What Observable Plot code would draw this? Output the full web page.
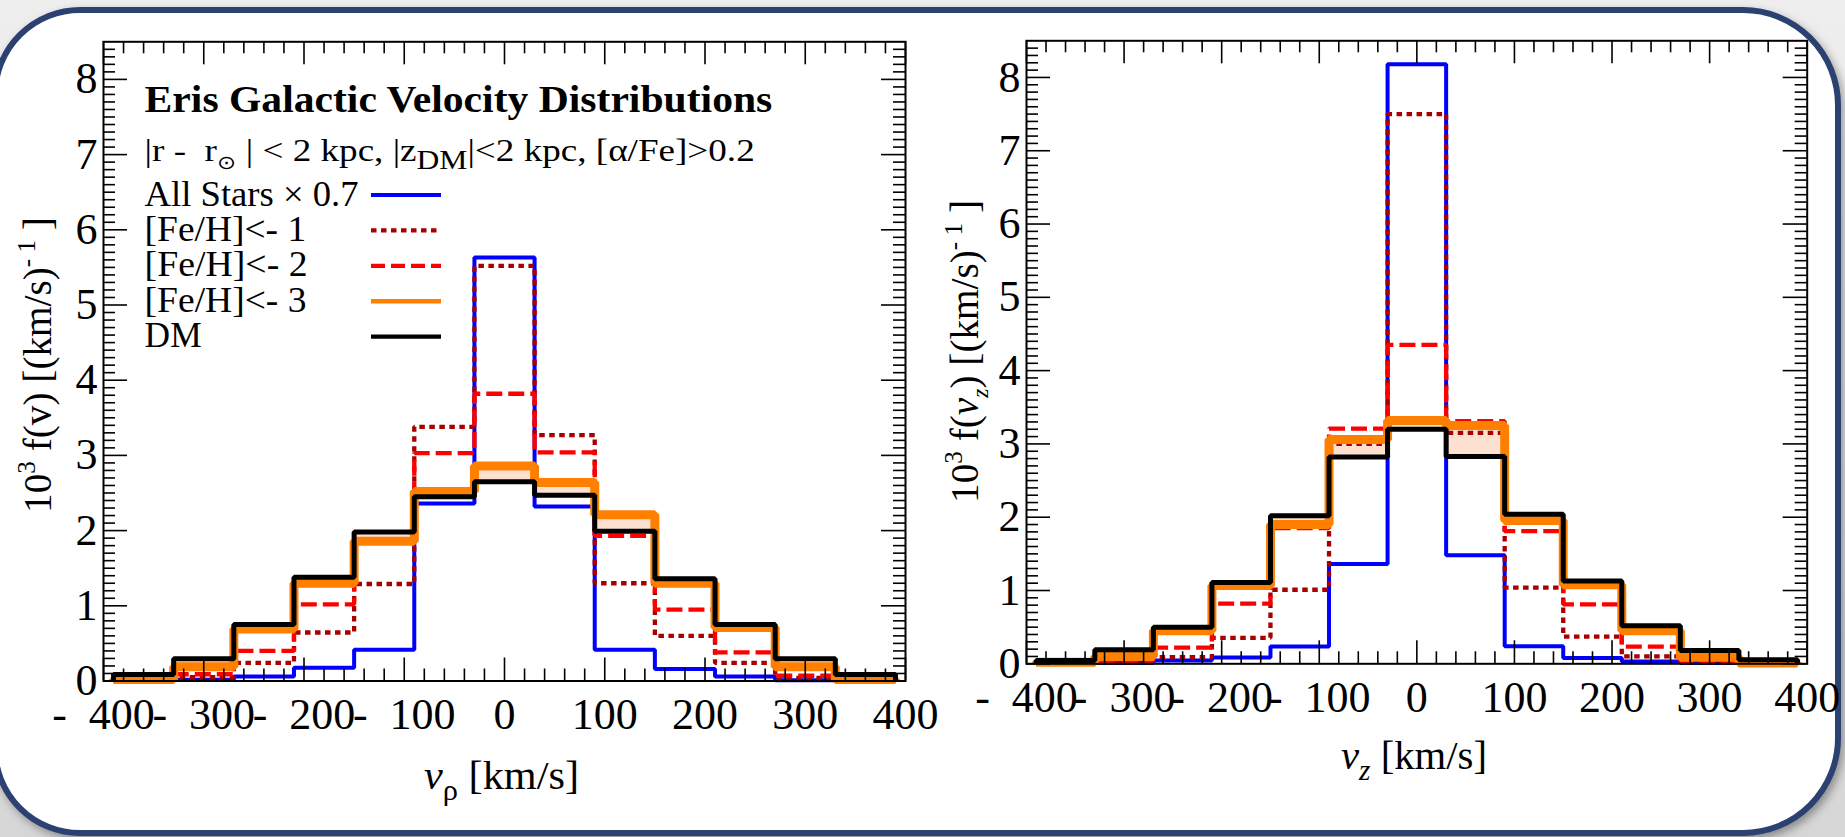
<!DOCTYPE html>
<html>
<head>
<meta charset="utf-8">
<script src="https://cdn.jsdelivr.net/npm/d3@7"></script>
<script src="https://cdn.jsdelivr.net/npm/@observablehq/plot@0.6"></script>
<style>
  html, body { margin: 0; padding: 0; }
  body { width: 1845px; height: 837px; overflow: hidden; }
  #page {
    position: relative; width: 1845px; height: 837px; overflow: hidden;
    background: linear-gradient(180deg, #eeeeee 0%, #e2e2e2 60%, #d6d6d6 100%);
    font-family: "Liberation Serif", "Times New Roman", serif;
  }
  #card {
    position: absolute; box-sizing: border-box;
    left: -8px; top: 7px; width: 1849px; height: 829px;
    background: #ffffff;
    border: 6px solid #2b4171;
    border-radius: 88px 98px 98px 88px;
    box-shadow: 3px 4px 9px rgba(0, 0, 0, 0.35);
  }
  #page svg.panel { position: absolute; top: 0; z-index: 1; }
  #overlay { position: absolute; left: 0; top: 0; z-index: 2; pointer-events: none; }
</style>
</head>
<body>
<div id="page">
  <div id="card"></div>
  <svg id="overlay" width="1845" height="837"></svg>
</div>
<script>
// Velocity bins (km/s): centres, 60 km/s wide
const binCenters = [-360, -300, -240, -180, -120, -60, 0, 60, 120, 180, 240, 300, 360];
const binWidth = 60;

// 10^3 f(v_rho)
const allStarsRho  = [0.01, 0.015, 0.06, 0.175, 0.415, 2.36, 5.63, 2.32, 0.415, 0.16, 0.06, 0.01, 0.005];
const fehBelow1Rho = [0.01, 0.05, 0.24, 0.645, 1.29, 3.38, 5.52, 3.27, 1.30, 0.60, 0.24, 0.04, 0.01];
const fehBelow2Rho = [0.01, 0.09, 0.40, 1.02, 1.85, 3.03, 3.82, 3.04, 1.93, 0.95, 0.38, 0.07, 0.01];
const fehBelow3Rho = [0.02, 0.19, 0.69, 1.30, 1.86, 2.52, 2.86, 2.64, 2.21, 1.30, 0.71, 0.19, 0.02];
const darkMatterRho = [0.086, 0.295, 0.75, 1.38, 1.98, 2.45, 2.65, 2.47, 1.99, 1.36, 0.75, 0.295, 0.086];

// 10^3 f(v_z)
const allStarsZ  = [0.0, 0.01, 0.045, 0.085, 0.235, 1.36, 8.18, 1.48, 0.24, 0.08, 0.03, 0.01, 0.0];
const fehBelow1Z = [0.0, 0.015, 0.09, 0.355, 1.01, 3.00, 7.50, 3.15, 1.04, 0.37, 0.10, 0.02, 0.0];
const fehBelow2Z = [0.0, 0.04, 0.22, 0.82, 1.85, 3.21, 4.35, 3.31, 1.81, 0.81, 0.235, 0.04, 0.0];
const fehBelow3Z = [0.02, 0.10, 0.45, 1.07, 1.90, 3.06, 3.32, 3.25, 1.955, 1.08, 0.45, 0.09, 0.01];
const darkMatterZ = [0.045, 0.19, 0.50, 1.11, 2.02, 2.82, 3.20, 2.83, 2.04, 1.13, 0.52, 0.18, 0.055];

// Axis ticks
const xMajorTicks = [-400, -300, -200, -100, 0, 100, 200, 300, 400];
const xMinorTicks = d3.range(-400, 401, 20).filter(v => v % 100 !== 0);
const yMajorTicks = [0, 1, 2, 3, 4, 5, 6, 7, 8];
const yMinorTicks = d3.range(1, 85).map(i => i / 10).filter(v => Math.abs(v - Math.round(v)) > 1e-6);

// Legend entries
const legendLabels = ["All Stars \u00d7 0.7", "[Fe/H]<- 1", "[Fe/H]<- 2", "[Fe/H]<- 3", "DM"];

// Line styles per series
const styles = {
  all:  {stroke: "#0000ff", strokeWidth: 4},
  feh1: {stroke: "#a80000", strokeWidth: 4.3, strokeDasharray: "5.5,4.5"},
  feh2: {stroke: "#ff0000", strokeWidth: 4.3, strokeDasharray: "16,6"},
  feh3: {stroke: "#ff8000", strokeWidth: 9},
  dm:   {stroke: "#000000", strokeWidth: 5}
};
const bandFill = "#fde0d0";

// Histogram outline: each bin contributes its two edges, closed to zero at both ends
function stepPoints(values) {
  const pts = [{x: binCenters[0] - binWidth / 2, y: 0}];
  values.forEach((v, i) => {
    pts.push({x: binCenters[i] - binWidth / 2, y: v});
    pts.push({x: binCenters[i] + binWidth / 2, y: v});
  });
  pts.push({x: binCenters[binCenters.length - 1] + binWidth / 2, y: 0});
  return pts;
}
// Stepped band between two histograms
function bandPoints(lo, hi) {
  const pts = [];
  lo.forEach((v, i) => {
    pts.push({x: binCenters[i] - binWidth / 2, y1: v, y2: hi[i]});
    pts.push({x: binCenters[i] + binWidth / 2, y1: v, y2: hi[i]});
  });
  return pts;
}

const xTickFormat = d => d < 0 ? "-\u2002" + Math.abs(d) : String(d);
const yTickFormat = d => String(d);

function panel(p) {
  const height = 837;
  const plotH = height - p.mT - p.mB;
  const plotW = p.width - p.mL - p.mR;
  const lineOpts = s => ({x: "x", y: "y", ...styles[s], strokeLinecap: "butt", strokeLinejoin: "miter"});
  const tk = {stroke: "black", strokeWidth: 1.6};
  const svg = Plot.plot({
    width: p.width, height,
    marginLeft: p.mL, marginRight: p.mR, marginTop: p.mT, marginBottom: p.mB,
    x: {domain: [-400, 400]},
    y: {domain: [0, 8.5]},
    style: {fontFamily: "'Liberation Serif', 'Times New Roman', serif", color: "black", background: "transparent", overflow: "visible"},
    marks: [
      Plot.areaY(bandPoints(p.series.dm, p.series.feh3), {x: "x", y1: "y1", y2: "y2", fill: bandFill}),
      Plot.line(stepPoints(p.series.all), lineOpts("all")),
      Plot.line(stepPoints(p.series.feh1), lineOpts("feh1")),
      Plot.line(stepPoints(p.series.feh2), lineOpts("feh2")),
      Plot.line(stepPoints(p.series.feh3), lineOpts("feh3")),
      Plot.line(stepPoints(p.series.dm), lineOpts("dm")),
      // inward ticks on all four sides
      Plot.tickX(xMinorTicks, {x: d => d, insetTop: plotH - 12, ...tk}),
      Plot.tickX(xMinorTicks, {x: d => d, insetBottom: plotH - 12, ...tk}),
      Plot.tickX(xMajorTicks, {x: d => d, insetTop: plotH - 23, ...tk}),
      Plot.tickX(xMajorTicks, {x: d => d, insetBottom: plotH - 23, ...tk}),
      Plot.tickY(yMinorTicks, {y: d => d, insetRight: plotW - 12, ...tk}),
      Plot.tickY(yMinorTicks, {y: d => d, insetLeft: plotW - 12, ...tk}),
      Plot.tickY(yMajorTicks, {y: d => d, insetRight: plotW - 24, ...tk}),
      Plot.tickY(yMajorTicks, {y: d => d, insetLeft: plotW - 24, ...tk}),
      Plot.axisX(xMajorTicks, {tickSize: 0, tickPadding: 17, tickFormat: xTickFormat, fontSize: 44, label: null}),
      Plot.axisY(yMajorTicks, {tickSize: 0, tickPadding: 6, tickFormat: yTickFormat, fontSize: 44, label: null}),
      Plot.frame({stroke: "black", strokeWidth: 2})
    ]
  });
  svg.classList.add("panel");
  svg.style.left = p.left + "px";
  document.getElementById("page").appendChild(svg);
}

panel({left: 0, width: 930, mL: 103, mR: 25, mT: 41.3, mB: 156.5,
  series: {all: allStarsRho, feh1: fehBelow1Rho, feh2: fehBelow2Rho, feh3: fehBelow3Rho, dm: darkMatterRho}});
panel({left: 930, width: 915, mL: 96, mR: 38.3, mT: 40.3, mB: 173.7,
  series: {all: allStarsZ, feh1: fehBelow1Z, feh2: fehBelow2Z, feh3: fehBelow3Z, dm: darkMatterZ}});

// ---- titles, axis labels and legend ----
const ov = d3.select("#overlay");

function richText(parent, parts, size, weight) {
  const text = parent.append("text")
    .attr("font-size", size)
    .attr("font-weight", weight || "normal")
    .attr("fill", "black")
    .style("white-space", "pre");
  let shift = 0;
  for (const part of parts) {
    const target = part.sup ? -0.42 * size : part.sub ? 0.26 * size : 0;
    const ts = text.append("tspan").text(part.t);
    if (target !== shift) { ts.attr("dy", target - shift); shift = target; }
    if (part.sup || part.sub) ts.attr("font-size", size * (part.scale || 0.64));
    if (part.italic) ts.attr("font-style", "italic");
  }
  return text;
}
function fitWidth(text, width) {
  const w = text.node().getComputedTextLength();
  if (w > 0) text.attr("transform", `scale(${width / w},1)`);
}
// (x, y) is the baseline start, or the baseline centre when anchor is middle
function label(x, y, parts, size, width, opts = {}) {
  const g = ov.append("g").attr("transform", `translate(${x},${y})${opts.rotate ? " rotate(-90)" : ""}`);
  const t = richText(g, parts, size, opts.weight).attr("text-anchor", opts.anchor || "start");
  fitWidth(t, width);
  return t;
}

label(144.6, 112, [{t: "Eris Galactic Velocity Distributions"}], 38.5, 628, {weight: "bold"});
label(144.6, 161, [
  {t: "|r -  r"}, {t: "\u2299", sub: true, scale: 0.6}, {t: " | < 2 kpc, |z"},
  {t: "DM", sub: true, scale: 0.85}, {t: "|<2 kpc, [\u03b1/Fe]>0.2"}
], 31, 610);

// legend
const legendKeys = ["all", "feh1", "feh2", "feh3", "dm"];
const legendWidths = [214, 161.6, 163, 162, 57];
legendKeys.forEach((k, i) => {
  const y = 195 + i * 35.4;
  label(144.6, y + 10.5, [{t: legendLabels[i]}], 35.5, legendWidths[i]);
  const s = styles[k];
  ov.append("line")
    .attr("x1", 371).attr("x2", 441).attr("y1", y).attr("y2", y)
    .attr("stroke", s.stroke)
    .attr("stroke-width", k === "feh3" ? 4.5 : 4.2)
    .attr("stroke-dasharray", k === "feh2" ? "14,6" : k === "feh1" ? "5.5,4.5" : null);
});

// axis titles
label(501.5, 789, [{t: "v", italic: true}, {t: "\u03c1", sub: true, scale: 0.72}, {t: " [km/s]"}], 41, 155, {anchor: "middle"});
label(1414, 769, [{t: "v", italic: true}, {t: "z", sub: true, italic: true, scale: 0.72}, {t: " [km/s]"}], 41, 146, {anchor: "middle"});
label(51, 365, [
  {t: "10"}, {t: "3", sup: true}, {t: " f(v) [(km/s)"}, {t: "- 1", sup: true}, {t: " ]"}
], 39, 296, {anchor: "middle", rotate: true});
label(978, 351.5, [
  {t: "10"}, {t: "3", sup: true}, {t: " f("}, {t: "v", italic: true}, {t: "z", sub: true, italic: true, scale: 0.6},
  {t: ") [(km/s)"}, {t: "- 1", sup: true}, {t: " ]"}
], 39, 303, {anchor: "middle", rotate: true});
</script>
</body>
</html>
